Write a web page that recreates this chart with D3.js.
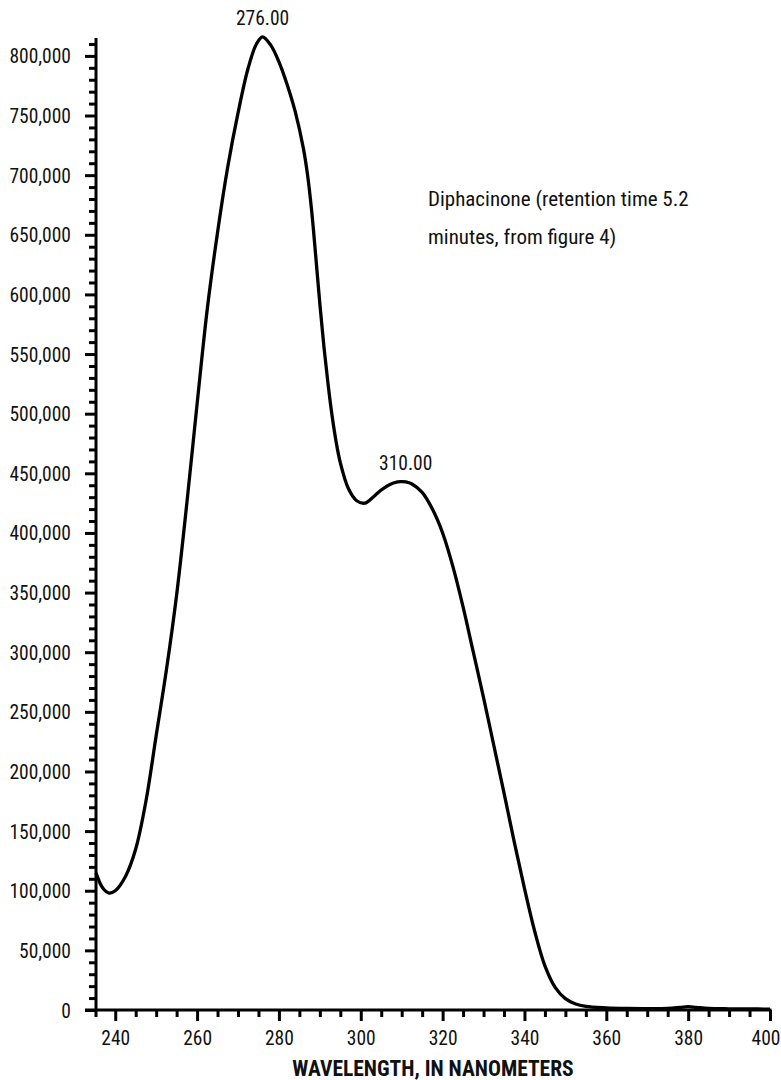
<!DOCTYPE html>
<html>
<head>
<meta charset="utf-8">
<script src="https://cdn.jsdelivr.net/npm/d3@7"></script>
<style>
  html, body { margin: 0; padding: 0; background: #fff; }
  svg text { font-family: 'Liberation Sans Narrow', 'Arial Narrow', 'Roboto Condensed', sans-serif; fill: #111; }
</style>
</head>
<body>
<svg id="chart" width="781" height="1080"></svg>
<script>
// ---- data ----
const wavelengths = [235.3, 237, 238.5, 240, 242.5, 245, 247.5, 250, 252.5, 255, 257.5, 260, 262.5, 265, 267.5, 270, 272.5, 274.5, 276, 278, 280, 282, 284, 286, 287, 288, 289, 290, 291, 292, 293, 294, 295, 297, 299, 301, 303, 305, 307, 309, 310, 311, 312.5, 315, 317.5, 320, 322.5, 325, 327.5, 330, 332.5, 335, 337.5, 340, 342.5, 345, 347.5, 350, 352.5, 355, 360, 365, 370, 375, 378, 380, 382, 385, 390, 395, 400];
const intensity = [115000, 102000, 98000, 100000, 112000, 135000, 175000, 230000, 285000, 348000, 425000, 508000, 588000, 652000, 707000, 752000, 790000, 810000, 816000, 809000, 795000, 776000, 753000, 722000, 700000, 670000, 632000, 592000, 556000, 525000, 498000, 476000, 459000, 437000, 427000, 425000, 430000, 436000, 440500, 442800, 443000, 442800, 441000, 434000, 420000, 400000, 372000, 338000, 300000, 262000, 222000, 182000, 141000, 102000, 66000, 37000, 19000, 9500, 5000, 3000, 1800, 1300, 1200, 1400, 2200, 2800, 2200, 1300, 1000, 900, 700];
const xTickLabels = [240, 260, 280, 300, 320, 340, 360, 380, 400];
const yTickLabels = [0, 50000, 100000, 150000, 200000, 250000, 300000, 350000, 400000, 450000, 500000, 550000, 600000, 650000, 700000, 750000, 800000];
const peakLabels = [{ wl: 276, value: 816000, text: "276.00" }, { wl: 310, value: 443000, text: "310.00" }];
const noteLines = ["Diphacinone (retention time 5.2", "minutes, from figure 4)"];
const xTitle = "WAVELENGTH, IN NANOMETERS";

(function () {
  const svg = d3.select("#chart");
  const mL = 96, mR = 770, mT = 38, mB = 1010;
  const x = d3.scaleLinear().domain([235.3, 400]).range([mL, mR]);
  const y = d3.scaleLinear().domain([0, 815000]).range([mB, mT]);
  const fontSize = 19.5;

  // y axis minor + major ticks
  const yMinor = d3.range(0, 815001, 10000).filter(v => v % 50000 !== 0);
  const gyMinor = svg.append("g").attr("transform", `translate(${mL},0)`)
    .call(d3.axisLeft(y).tickValues(yMinor).tickSize(7).tickFormat(""));
  const gyMajor = svg.append("g").attr("transform", `translate(${mL},0)`)
    .call(d3.axisLeft(y).tickValues(yTickLabels).tickSize(11).tickPadding(14).tickFormat(d3.format(",")));
  [gyMinor, gyMajor].forEach(g => {
    g.select(".domain").remove();
    g.selectAll(".tick line").attr("stroke", "#000").attr("stroke-width", 3);
  });
  gyMajor.selectAll(".tick text").attr("font-size", fontSize).attr("dy", "0.36em").attr("fill", "#111");

  // x axis minor + major ticks
  const xMinor = d3.range(240, 400.1, 5).filter(v => v % 20 !== 0);
  const gxMinor = svg.append("g").attr("transform", `translate(0,${mB})`)
    .call(d3.axisBottom(x).tickValues(xMinor).tickSize(7).tickFormat(""));
  const gxMajor = svg.append("g").attr("transform", `translate(0,${mB})`)
    .call(d3.axisBottom(x).tickValues(xTickLabels).tickSize(11).tickPadding(10).tickFormat(d3.format("d")));
  [gxMinor, gxMajor].forEach(g => {
    g.select(".domain").remove();
    g.selectAll(".tick line").attr("stroke", "#000").attr("stroke-width", 3);
  });
  gxMajor.selectAll(".tick text").attr("font-size", fontSize).attr("fill", "#111")
    .filter(d => d === 400).attr("text-anchor", "end").attr("dx", 10);

  // axis lines
  svg.append("line").attr("x1", mL).attr("x2", mL).attr("y1", mT).attr("y2", mB + 7)
    .attr("stroke", "#000").attr("stroke-width", 3);
  svg.append("line").attr("x1", mL - 11).attr("x2", mR + 1.5).attr("y1", mB).attr("y2", mB)
    .attr("stroke", "#000").attr("stroke-width", 3);

  // curve
  const pts = wavelengths.map((w, i) => [w, intensity[i]]);
  const line = d3.line().x(d => x(d[0])).y(d => y(d[1])).curve(d3.curveCatmullRom.alpha(0.5));
  svg.append("path").datum(pts).attr("d", line)
    .attr("fill", "none").attr("stroke", "#000").attr("stroke-width", 3.3).attr("stroke-linejoin", "round");

  // peak labels
  svg.selectAll(".peak").data(peakLabels).enter().append("text")
    .attr("class", "peak")
    .attr("x", (d, i) => x(d.wl) + (i === 1 ? 4 : 0))
    .attr("y", d => y(d.value) - 12)
    .attr("text-anchor", "middle").attr("font-size", fontSize)
    .text(d => d.text);

  // note
  svg.selectAll(".note").data(noteLines).enter().append("text")
    .attr("class", "note").attr("x", 428).attr("y", (d, i) => 206 + i * 38)
    .attr("font-size", 21).text(d => d);

  // x title
  svg.append("text").attr("x", (mL + mR) / 2).attr("y", 1076)
    .attr("text-anchor", "middle").attr("font-size", 21.5).attr("font-weight", "bold")
    .text(xTitle);
})();
</script>
</body>
</html>
